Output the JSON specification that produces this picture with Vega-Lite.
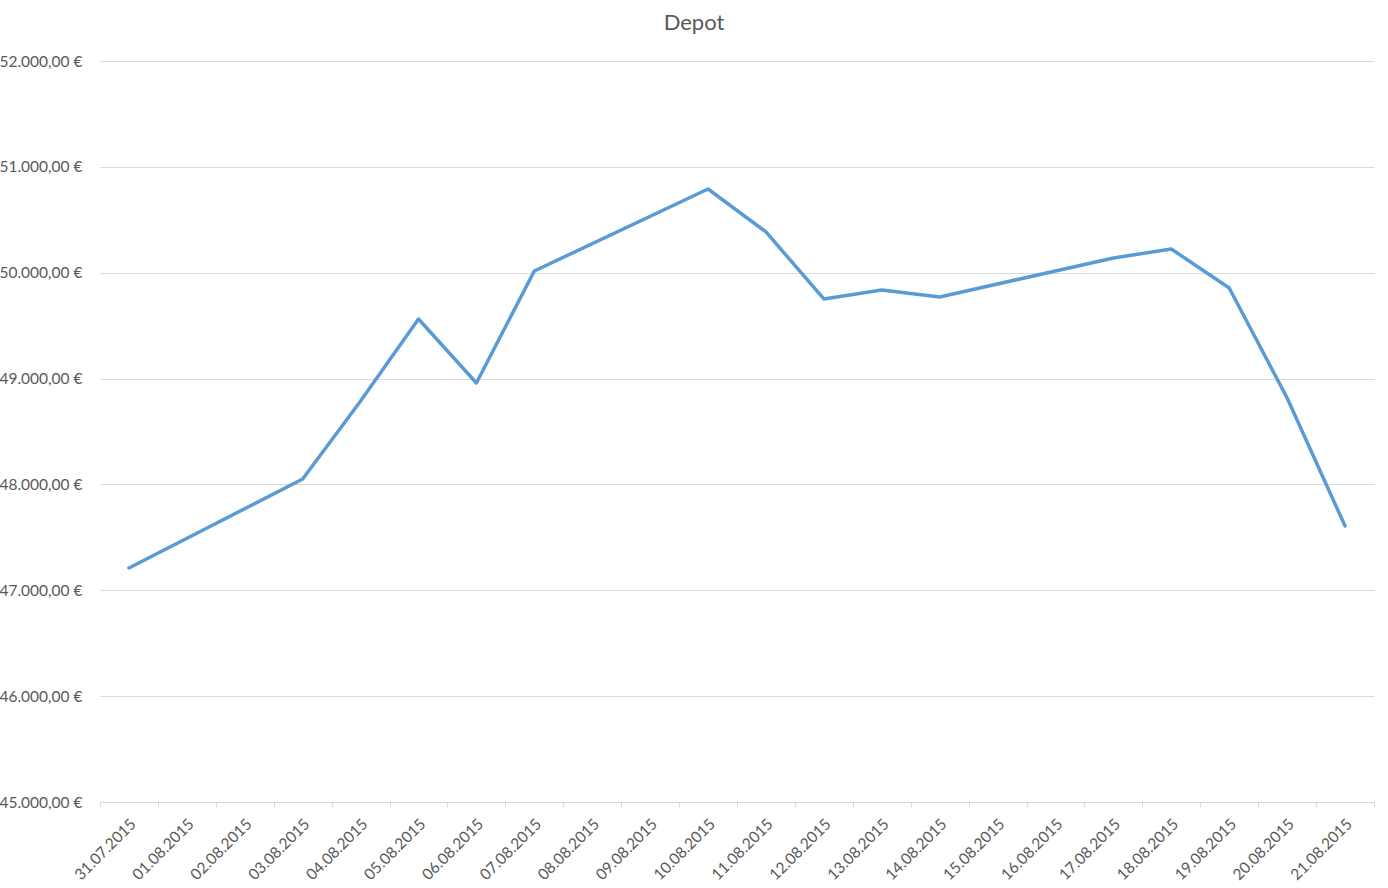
{
  "$schema": "https://vega.github.io/schema/vega-lite/v6.json",
  "width": 1274,
  "height": 741,
  "autosize": {"type": "none"},
  "padding": {"left": 100, "top": 61, "right": 14, "bottom": 86},
  "background": "white",
  "config": {
    "view": {"stroke": null},
    "font": "Lato",
    "locale": {"number": {"decimal": ",", "thousands": ".", "grouping": [3], "currency": ["", " €"]}}
  },
  "title": {"text": "Depot", "fontSize": 22, "font": "Lato", "fontWeight": "normal", "color": "#595959", "anchor": "middle", "offset": 19, "dx": -43},
  "data": {
    "values": [
      {"date": "31.07.2015", "value": 47211},
      {"date": "03.08.2015", "value": 48051},
      {"date": "04.08.2015", "value": 48788},
      {"date": "05.08.2015", "value": 49563},
      {"date": "06.08.2015", "value": 48958},
      {"date": "07.08.2015", "value": 50016},
      {"date": "10.08.2015", "value": 50791},
      {"date": "11.08.2015", "value": 50385},
      {"date": "12.08.2015", "value": 49752},
      {"date": "13.08.2015", "value": 49837},
      {"date": "14.08.2015", "value": 49771},
      {"date": "17.08.2015", "value": 50139},
      {"date": "18.08.2015", "value": 50224},
      {"date": "19.08.2015", "value": 49856},
      {"date": "20.08.2015", "value": 48817},
      {"date": "21.08.2015", "value": 47607}
    ]
  },
  "mark": {"type": "line", "stroke": "#5B9BD5", "strokeWidth": 3.5, "strokeCap": "round", "strokeJoin": "round"},
  "encoding": {
    "x": {
      "field": "date",
      "type": "ordinal",
      "sort": null,
      "scale": {
        "type": "band",
        "paddingInner": 0,
        "paddingOuter": 0,
        "domain": ["31.07.2015", "01.08.2015", "02.08.2015", "03.08.2015", "04.08.2015", "05.08.2015", "06.08.2015", "07.08.2015", "08.08.2015", "09.08.2015", "10.08.2015", "11.08.2015", "12.08.2015", "13.08.2015", "14.08.2015", "15.08.2015", "16.08.2015", "17.08.2015", "18.08.2015", "19.08.2015", "20.08.2015", "21.08.2015"]
      },
      "axis": {
        "title": null,
        "labelAngle": -45,
        "labelAlign": "right",
        "labelBaseline": "middle",
        "labelFontSize": 15.5,
        "labelColor": "#595959",
        "labelPadding": 14,
        "labelOffset": 4,
        "tickBand": "extent",
        "tickSize": 5,
        "tickColor": "#D9D9D9",
        "domainColor": "#D9D9D9",
        "grid": false
      }
    },
    "y": {
      "field": "value",
      "type": "quantitative",
      "scale": {"domain": [45000, 52000], "nice": false, "zero": false},
      "axis": {
        "title": null,
        "values": [45000, 46000, 47000, 48000, 49000, 50000, 51000, 52000],
        "format": "$,.2f",
        "labelFontSize": 15.5,
        "labelColor": "#595959",
        "labelPadding": 18,
        "ticks": false,
        "domain": false,
        "grid": true,
        "gridColor": "#D9D9D9",
        "gridWidth": 1
      }
    }
  }
}
